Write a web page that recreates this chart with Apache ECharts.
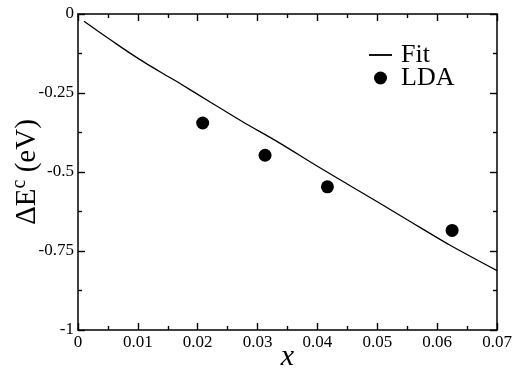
<!DOCTYPE html>
<html><head><meta charset="utf-8">
<script src="https://cdn.jsdelivr.net/npm/echarts@6/dist/echarts.min.js"></script>
<style>html,body{margin:0;padding:0;background:#fff}#c{width:527px;height:369px}</style>
</head><body><div id="c"></div>
<script>
const xTicks = [0, 0.01, 0.02, 0.03, 0.04, 0.05, 0.06, 0.07];
const yTickLabels = {"0": "0", "-0.25": "-0.25", "-0.5": "-0.5", "-0.75": "-0.75", "-1": "-1"};
const fitX = [0.001, 0.0033, 0.0056, 0.0083, 0.0111, 0.0139, 0.0167, 0.0222, 0.0275, 0.0333, 0.040, 0.0449, 0.050, 0.055, 0.0621, 0.070];
const fitY = [-0.023, -0.054, -0.084, -0.119, -0.153, -0.185, -0.216, -0.280, -0.341, -0.404, -0.482, -0.537, -0.594, -0.651, -0.731, -0.812];
const ldaX = [0.02083, 0.03125, 0.04167, 0.0625];
const ldaY = [-0.345, -0.447, -0.547, -0.685];

const serif = "'Liberation Serif', serif";
const chart = echarts.init(document.getElementById('c'), null, {renderer: 'canvas'});
const axisLine = () => ({show: true, onZero: false, lineStyle: {color: '#000', width: 1.5}});
const tick = () => ({show: true, inside: true, length: 7, lineStyle: {color: '#000', width: 1.4}});
const minor = () => ({show: true, splitNumber: 2, length: 4, lineStyle: {color: '#000', width: 1.4}});
chart.setOption({
  animation: false,
  backgroundColor: '#fff',
  grid: {left: 78, right: 30, top: 14, bottom: 39, containLabel: false, outerBoundsMode: 'none'},
  legend: {
    orient: 'vertical', left: 364, top: 37, itemGap: -3, itemWidth: 23, itemHeight: 13,
    textStyle: {fontFamily: serif, fontSize: 26, color: '#000', padding: [0, 0, 0, 4]},
    data: [{name: 'Fit', icon: 'path://M0,0L1,0L1,0.08L0,0.08Z'}, {name: 'LDA', icon: 'circle'}]
  },
  xAxis: [{
    type: 'value', min: 0, max: 0.07, interval: 0.01, position: 'bottom',
    name: 'x', nameLocation: 'middle', nameGap: 12, nameMoveOverlap: false,
    nameTextStyle: {fontFamily: serif, fontStyle: 'italic', fontSize: 30, color: '#000', verticalAlign: 'top'},
    axisLine: axisLine(), axisTick: tick(), minorTick: minor(), splitLine: {show: false},
    axisLabel: {fontFamily: serif, fontSize: 17, color: '#000', margin: 4,
      formatter: v => { const t = xTicks.find(a => Math.abs(a - v) < 1e-9); return t === undefined ? '' : String(t); }}
  }, {
    type: 'value', min: 0, max: 0.07, interval: 0.01, position: 'top',
    axisLine: axisLine(), axisTick: tick(), minorTick: minor(), splitLine: {show: false}, axisLabel: {show: false}
  }],
  yAxis: [{
    type: 'value', min: -1, max: 0, interval: 0.25, position: 'left',
    name: '{a|ΔE}{s|c}{a| (eV)}', nameLocation: 'middle', nameGap: 34, nameMoveOverlap: false,
    nameTextStyle: {rich: {a: {fontFamily: serif, fontSize: 29, color: '#000'}, s: {fontFamily: serif, fontSize: 20, color: '#000', verticalAlign: 'top', padding: [0, 0, 14, 0]}}},
    axisLine: axisLine(), axisTick: tick(), minorTick: minor(), splitLine: {show: false},
    axisLabel: {fontFamily: serif, fontSize: 17, color: '#000', margin: 4,
      formatter: v => { const k = String(Math.round(v * 100) / 100); return yTickLabels[k] !== undefined ? yTickLabels[k] : ''; }}
  }, {
    type: 'value', min: -1, max: 0, interval: 0.25, position: 'right',
    axisLine: axisLine(), axisTick: tick(), minorTick: minor(), splitLine: {show: false}, axisLabel: {show: false}
  }],
  series: [{
    name: 'Fit', type: 'line', data: fitX.map((x, i) => [x, fitY[i]]),
    showSymbol: false, symbol: 'none', smooth: 0.3,
    lineStyle: {color: '#000', width: 1.3}, itemStyle: {color: '#000'}
  }, {
    name: 'LDA', type: 'scatter', data: ldaX.map((x, i) => [x, ldaY[i]]),
    symbol: 'circle', symbolSize: 13, itemStyle: {color: '#000', opacity: 1}
  }]
});
</script></body></html>
